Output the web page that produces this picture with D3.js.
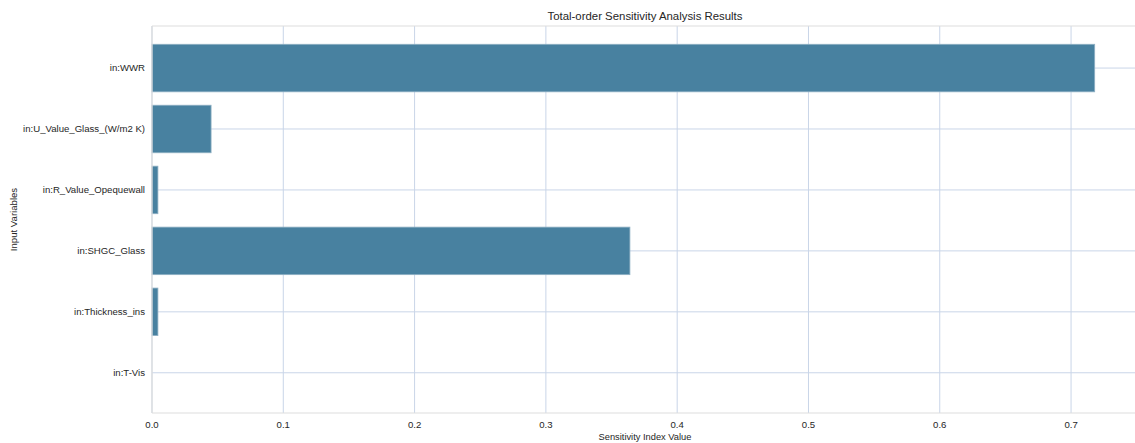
<!DOCTYPE html>
<html>
<head>
<meta charset="utf-8">
<script src="https://cdn.jsdelivr.net/npm/d3@7"></script>
<style>
  body { margin: 0; background: #fff; }
  text { font-family: 'Liberation Sans', Arial, sans-serif; fill: #262626; }
</style>
</head>
<body>
<div id="chart"></div>
<script>
const variables = [
  'in:WWR',
  'in:U_Value_Glass_(W/m2 K)',
  'in:R_Value_Opequewall',
  'in:SHGC_Glass',
  'in:Thickness_ins',
  'in:T-Vis'
]
const sensitivity = [0.718, 0.045, 0.0045, 0.364, 0.0045, 0.0]
const xTicks = [0.0, 0.1, 0.2, 0.3, 0.4, 0.5, 0.6, 0.7]

const totalWidth = 1135
const totalHeight = 443
const margin = { top: 26, left: 152, right: 0, bottom: 30 }
const width = totalWidth - margin.left - margin.right
const height = totalHeight - margin.top - margin.bottom

const svg = d3
  .select('#chart')
  .append('svg')
  .attr('width', totalWidth)
  .attr('height', totalHeight)

const g = svg
  .append('g')
  .attr('transform', 'translate(' + margin.left + ',' + margin.top + ')')

const xPositionScale = d3.scaleLinear().domain([0, 0.7487]).range([0, width])
// category index -> pixel, with matplotlib-like padding above/below
const yPositionScale = d3
  .scaleLinear()
  .domain([-0.69, variables.length - 1 + 0.66])
  .range([0, height])
const barHeight = yPositionScale(0.39) - yPositionScale(-0.39)

const gridColor = '#c9d5e8'
const spineColor = '#dddddd'

// vertical grid
g.selectAll('.xgrid')
  .data(xTicks)
  .enter()
  .append('line')
  .attr('class', 'xgrid')
  .attr('x1', d => xPositionScale(d))
  .attr('x2', d => xPositionScale(d))
  .attr('y1', 0)
  .attr('y2', height)
  .attr('stroke', gridColor)
  .attr('stroke-width', 1)

// horizontal grid
g.selectAll('.ygrid')
  .data(variables)
  .enter()
  .append('line')
  .attr('class', 'ygrid')
  .attr('x1', 0)
  .attr('x2', width)
  .attr('y1', (d, i) => yPositionScale(i))
  .attr('y2', (d, i) => yPositionScale(i))
  .attr('stroke', gridColor)
  .attr('stroke-width', 1)

// bars
g.selectAll('.bar')
  .data(sensitivity)
  .enter()
  .append('rect')
  .attr('class', 'bar')
  .attr('x', xPositionScale(0))
  .attr('y', (d, i) => yPositionScale(i) - barHeight / 2)
  .attr('width', d => xPositionScale(d) - xPositionScale(0))
  .attr('height', barHeight)
  .attr('fill', '#4881a0')
  .attr('stroke', d => (d > 0 ? '#8fb0c4' : 'none'))
  .attr('stroke-width', 0.8)

// spines
g.append('line')
  .attr('x1', 0).attr('x2', width).attr('y1', 0).attr('y2', 0)
  .attr('stroke', spineColor).attr('stroke-width', 1.2)
g.append('line')
  .attr('x1', 0).attr('x2', width).attr('y1', height).attr('y2', height)
  .attr('stroke', spineColor).attr('stroke-width', 1.2)
g.append('line')
  .attr('x1', 0).attr('x2', 0).attr('y1', 0).attr('y2', height)
  .attr('stroke', spineColor).attr('stroke-width', 1.2)

// x tick labels
g.selectAll('.xtick')
  .data(xTicks)
  .enter()
  .append('text')
  .attr('class', 'xtick')
  .attr('x', d => xPositionScale(d))
  .attr('y', height + 15)
  .attr('text-anchor', 'middle')
  .attr('font-size', 9.6)
  .text(d => d3.format('.1f')(d))

// y tick labels
g.selectAll('.ytick')
  .data(variables)
  .enter()
  .append('text')
  .attr('class', 'ytick')
  .attr('x', -7)
  .attr('y', (d, i) => yPositionScale(i))
  .attr('dy', '0.35em')
  .attr('text-anchor', 'end')
  .attr('font-size', 9.6)
  .text(d => d)

// axis labels and title
svg.append('text')
  .attr('x', 645)
  .attr('y', 440)
  .attr('text-anchor', 'middle')
  .attr('font-size', 9.3)
  .text('Sensitivity Index Value')

svg.append('text')
  .attr('transform', 'translate(17,' + (margin.top + height / 2) + ') rotate(-90)')
  .attr('text-anchor', 'middle')
  .attr('font-size', 9.6)
  .text('Input Variables')

svg.append('text')
  .attr('x', 645)
  .attr('y', 20)
  .attr('text-anchor', 'middle')
  .attr('font-size', 11.4)
  .text('Total-order Sensitivity Analysis Results')
</script>
</body>
</html>
